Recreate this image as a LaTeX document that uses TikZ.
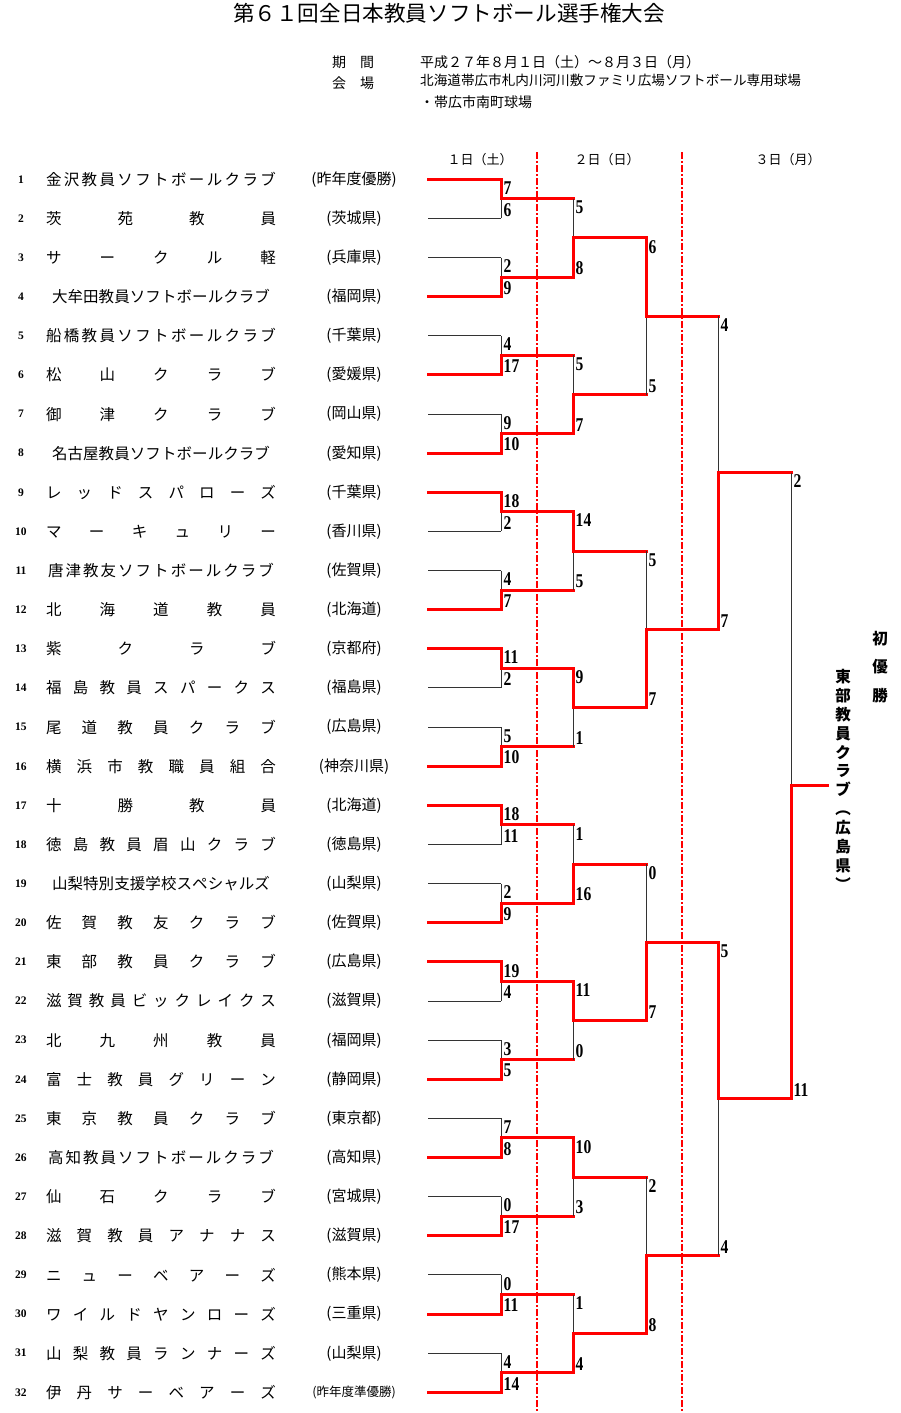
\documentclass[tikz,border=0pt]{standalone}
\usepackage{fontspec}
\setmainfont{Noto Sans CJK JP}
\newfontfamily\scorefont[FakeStretch=0.8]{Liberation Serif}
\newfontfamily\numfont{Liberation Serif}
\usetikzlibrary{positioning}

% spread the characters of a team name over its box
\def\spreadname#1{\expandafter\spreadA#1\relax}
\def\spreadA#1{#1\spreadB}
\def\spreadB#1{\ifx\relax#1\else\hfill#1\expandafter\spreadB\fi}
\newcommand{\smallpref}{\fontsize{12.5}{15}\selectfont}

\tikzset{
  team/.style={inner sep=0pt, font=\fontsize{15.5}{18}\selectfont},
  pref/.style={inner sep=0pt, font=\fontsize{15}{18}\selectfont},
  rownum/.style={inner sep=0pt, font=\numfont\bfseries\fontsize{11.5}{14}\selectfont},
  score/.style={inner xsep=2.5pt, inner ysep=2pt, font=\scorefont\bfseries\fontsize{19.5}{21}\selectfont},
  win/.style={draw=red, line width=3pt, line cap=rect},
  lose/.style={draw=black!80, line width=1pt},
  daysep/.style={draw=red, line width=1.4pt, dash pattern=on 7pt off 2pt on 2pt off 2pt},
  dayhead/.style={inner sep=0pt, font=\fontsize{13}{15}\selectfont},
  info/.style={anchor=west, inner sep=0pt, font=\fontsize{14}{16}\selectfont},
  champ/.style={align=center, inner sep=0pt, font=\bfseries\fontsize{15.5}{18.9}\selectfont}
}

% one game: round, game, winner (t/b), top score, bottom score
\newcommand{\bmatch}[5]{%
  \if t#3
    \draw[lose] (J-#1-#2) -- (B-#1-#2);
    \draw[win] (T-#1-#2) -- (J-#1-#2) -- (O-#1-#2);
  \else
    \draw[lose] (T-#1-#2) -- (J-#1-#2);
    \draw[win] (B-#1-#2) -- (J-#1-#2) -- (O-#1-#2);
  \fi
  \node[score, anchor=north west] (st-#1-#2) at (T-#1-#2) {#4};
  \node[score, anchor=south west] (sb-#1-#2) at (B-#1-#2) {#5};
}

\begin{document}
\begin{tikzpicture}[x=1pt, y=-1pt]
\useasboundingbox (0,0) rectangle (900,1413);

% heading
\node[inner sep=0pt, font=\fontsize{21.6}{24}\selectfont] (title) at (449,13) {第６１回全日本教員ソフトボール選手権大会};
\node[info] (kikan) at (332,62) {期　間};
\node[info] (kaijo) at (332,83) {会　場};
\node[info] (date) at (420,62) {平成２７年８月１日（土）～８月３日（月）};
\node[info, font=\fontsize{13.6}{16}\selectfont] (venue) at (420,80) {北海道帯広市札内川河川敷ファミリ広場ソフトボール専用球場};
\node[info] (venue2) at (420,102) {・帯広市南町球場};

% days
\node[dayhead] (day1) at (480,160) {１日（土）};
\node[dayhead] (day2) at (607,160) {２日（日）};
\node[dayhead] (day3) at (788,160) {３日（月）};
\coordinate (d1top) at (537,152);
\coordinate (d1bot) at (537,1413);
\coordinate (d2top) at (682,152);
\coordinate (d2bot) at (682,1413);
\draw[daysep] (d1top) -- (d1bot);
\draw[daysep] (d2top) -- (d2bot);

% bracket points
\foreach \r/\x/\nx in {1/501/573,2/573/646,3/646/718,4/718/791,5/791/827}{
  \pgfmathtruncatemacro\g{2^\r}
  \pgfmathtruncatemacro\nm{32/\g}
  \foreach \k in {1,...,\nm}{
    \pgfmathsetmacro\yt{179.3+((\k-1)*\g+(\g/2+1)/2-1)*39.13}
    \pgfmathsetmacro\yb{\yt+\g/2*39.13}
    \pgfmathsetmacro\ym{(\yt+\yb)/2}
    \coordinate (T-\r-\k) at (\x,\yt);
    \coordinate (B-\r-\k) at (\x,\yb);
    \coordinate (J-\r-\k) at (\x,\ym);
    \coordinate (O-\r-\k) at (\nx,\ym);
  }
}

% teams
\foreach \st/\w/\tname/\tpref [count=\i] in {
  win/230/金沢教員ソフトボールクラブ/(昨年度優勝),
  lose/230/茨苑教員/(茨城県),
  lose/230/サークル軽/(兵庫県),
  win/218/大牟田教員ソフトボールクラブ/(福岡県),
  lose/230/船橋教員ソフトボールクラブ/(千葉県),
  win/230/松山クラブ/(愛媛県),
  lose/230/御津クラブ/(岡山県),
  win/218/名古屋教員ソフトボールクラブ/(愛知県),
  win/230/レッドスパローズ/(千葉県),
  lose/230/マーキュリー/(香川県),
  lose/226/唐津教友ソフトボールクラブ/(佐賀県),
  win/230/北海道教員/(北海道),
  win/230/紫クラブ/(京都府),
  lose/230/福島教員スパークス/(福島県),
  lose/230/尾道教員クラブ/(広島県),
  win/230/横浜市教職員組合/(神奈川県),
  win/230/十勝教員/(北海道),
  lose/230/徳島教員眉山クラブ/(徳島県),
  lose/218/山梨特別支援学校スペシャルズ/(山梨県),
  win/230/佐賀教友クラブ/(佐賀県),
  win/230/東部教員クラブ/(広島県),
  lose/230/滋賀教員ビックレイクス/(滋賀県),
  lose/230/北九州教員/(福岡県),
  win/230/富士教員グリーン/(静岡県),
  lose/230/東京教員クラブ/(東京都),
  win/226/高知教員ソフトボールクラブ/(高知県),
  lose/230/仙石クラブ/(宮城県),
  win/230/滋賀教員アナナス/(滋賀県),
  lose/230/ニューベアーズ/(熊本県),
  win/230/ワイルドヤンローズ/(三重県),
  lose/230/山梨教員ランナーズ/(山梨県),
  win/230/伊丹サーベアーズ/{\smallpref(昨年度準優勝)}}{
  \pgfmathsetmacro\y{179.3+(\i-1)*39.13}
  \node[rownum] (k\i) at (21,\y) {\i};
  \node[team] (n\i) at (161,\y) {\makebox[\w pt][s]{\spreadname{\tname}}};
  \node[pref] (p\i) at (354,\y) {\tpref};
  \coordinate (s\i) at (428,\y);
  \coordinate (e\i) at (501,\y);
  \draw[\st] (s\i) -- (e\i);
}

% games
\foreach \res/\a/\b [count=\k] in {t/7/6,b/2/9,b/4/17,b/9/10,t/18/2,b/4/7,t/11/2,b/5/10,
    t/18/11,b/2/9,t/19/4,b/3/5,b/7/8,b/0/17,b/0/11,b/4/14}
  {\bmatch{1}{\k}{\res}{\a}{\b}}
\foreach \res/\a/\b [count=\k] in {b/5/8,b/5/7,t/14/5,t/9/1,b/1/16,t/11/0,t/10/3,b/1/4}
  {\bmatch{2}{\k}{\res}{\a}{\b}}
\foreach \res/\a/\b [count=\k] in {t/6/5,b/5/7,b/0/7,b/2/8}
  {\bmatch{3}{\k}{\res}{\a}{\b}}
\foreach \res/\a/\b [count=\k] in {b/4/7,t/5/4}
  {\bmatch{4}{\k}{\res}{\a}{\b}}
\bmatch{5}{1}{b}{2}{11}

% champion
\node[champ, anchor=north] (winner) at (843,669) {東\\部\\教\\員\\ク\\ラ\\ブ\\︵\\広\\島\\県\\︶};
\node[champ, anchor=north, font=\bfseries\fontsize{15.5}{28.5}\selectfont] (first) at (880,631) {初\\優\\勝};
\end{tikzpicture}
\end{document}
